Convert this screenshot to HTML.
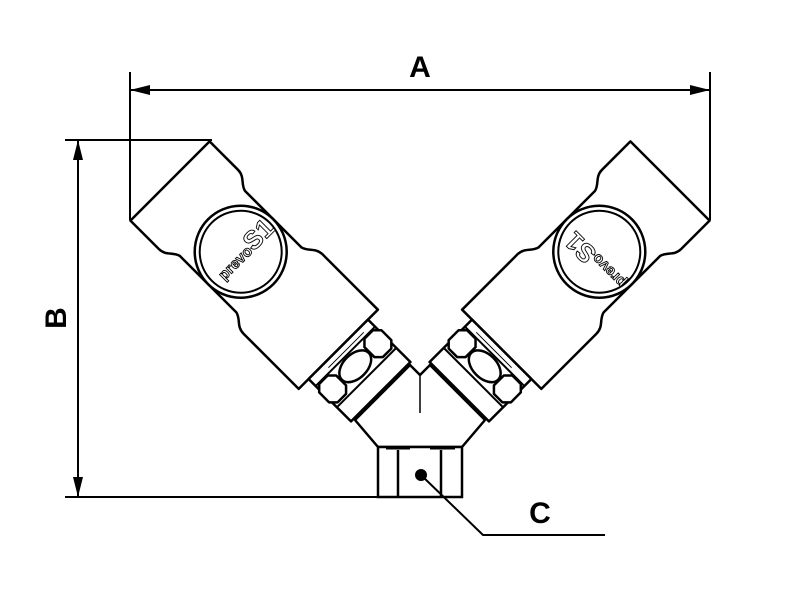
<!DOCTYPE html>
<html><head><style>
html,body{margin:0;padding:0;background:#fff;}
svg{display:block;}
text{font-family:"Liberation Sans",sans-serif;font-weight:bold;}
</style></head><body>
<svg width="800" height="600" viewBox="0 0 800 600" xmlns="http://www.w3.org/2000/svg">
<defs>
<marker id="ar" viewBox="0 0 20 10" refX="20" refY="5" markerWidth="20" markerHeight="10" markerUnits="userSpaceOnUse" orient="auto-start-reverse">
<path d="M0,0 L20,5 L0,10 z" fill="#000"/>
</marker>
<g id="cpl" fill="#fff" stroke="#000" stroke-width="2.5" stroke-linejoin="round">
  <path d="M0,-56 L40,-56 C50,-56 52,-48 60,-46 L140,-46 C148,-48 150,-56 160,-56 L238,-56 L238,56 L160,56 C150,56 148,48 140,46 L60,46 C52,48 50,56 40,56 L0,56 Z"/>
  <circle cx="100" cy="0" r="46"/>
  <circle cx="100" cy="0" r="41" stroke-width="2"/>
  <rect x="238" y="-42" width="60" height="84"/>
  <line x1="248" y1="-42" x2="248" y2="42" stroke-width="2"/>
  <line x1="278" y1="-42" x2="278" y2="42" stroke-width="2"/>
  <line x1="244" y1="-30" x2="244" y2="20" stroke-width="1"/>
  <polygon points="255,-44 269,-44 275,-38 275,-26 269,-20 255,-20 249,-26 249,-38"/>
  <polygon points="255,20 269,20 275,26 275,38 269,44 255,44 249,38 249,26"/>
  <ellipse cx="262" cy="0" rx="12" ry="19"/>
  <line x1="258" y1="-20" x2="258" y2="-17" stroke-width="2"/>
  <line x1="266" y1="-20" x2="266" y2="-17" stroke-width="2"/>
  <line x1="258" y1="17" x2="258" y2="20" stroke-width="2"/>
  <line x1="266" y1="17" x2="266" y2="20" stroke-width="2"/>
</g>
</defs>

<path d="M355,420 L378,447 L462,447 L485,420 L430,365 L420,375 L410,365 Z" fill="#fff" stroke="#000" stroke-width="2.5" stroke-linejoin="round"/>
<line x1="420" y1="376" x2="420" y2="413" stroke="#000" stroke-width="1.5"/>
<rect x="378" y="447" width="84" height="50" fill="#fff" stroke="#000" stroke-width="2.5"/>
<line x1="398" y1="450" x2="398" y2="497" stroke="#000" stroke-width="2.5"/>
<line x1="441" y1="450" x2="441" y2="497" stroke="#000" stroke-width="2.5"/>
<path d="M386,448 L410,448 M430,448 L455,448" stroke="#000" stroke-width="3"/>
<circle cx="421" cy="475" r="6" fill="#000"/>

<g transform="translate(170,181) rotate(45)"><use href="#cpl"/></g>
<g transform="translate(840,0) scale(-1,1) translate(170,181) rotate(45)"><use href="#cpl"/></g>

<g transform="translate(242,252) rotate(-45)" fill="#fff" stroke="#000" stroke-width="0.9">
<text x="8" y="8" font-size="15" text-anchor="end">prevo</text>
<text x="8" y="8" font-size="26">S1</text>
</g>
<g transform="translate(598,264) rotate(225)" fill="#fff" stroke="#000" stroke-width="0.9">
<text x="8" y="8" font-size="15" text-anchor="end">prevo</text>
<text x="8" y="8" font-size="26">S1</text>
</g>

<g stroke="#000" stroke-width="2" fill="none">
<line x1="130" y1="72" x2="130" y2="220"/>
<line x1="710" y1="72" x2="710" y2="220"/>
<line x1="130" y1="90" x2="710" y2="90" marker-start="url(#ar)" marker-end="url(#ar)"/>
<line x1="65" y1="140" x2="212" y2="140"/>
<line x1="65" y1="497" x2="380" y2="497"/>
<line x1="78" y1="140" x2="78" y2="497" marker-start="url(#ar)" marker-end="url(#ar)"/>
<polyline points="421,475 483,535 605,535"/>
</g>
<text x="420" y="77" font-size="30" text-anchor="middle">A</text>
<text transform="translate(66,318) rotate(-90)" font-size="30" text-anchor="middle">B</text>
<text x="540" y="523" font-size="30" text-anchor="middle">C</text>
</svg>
</body></html>
